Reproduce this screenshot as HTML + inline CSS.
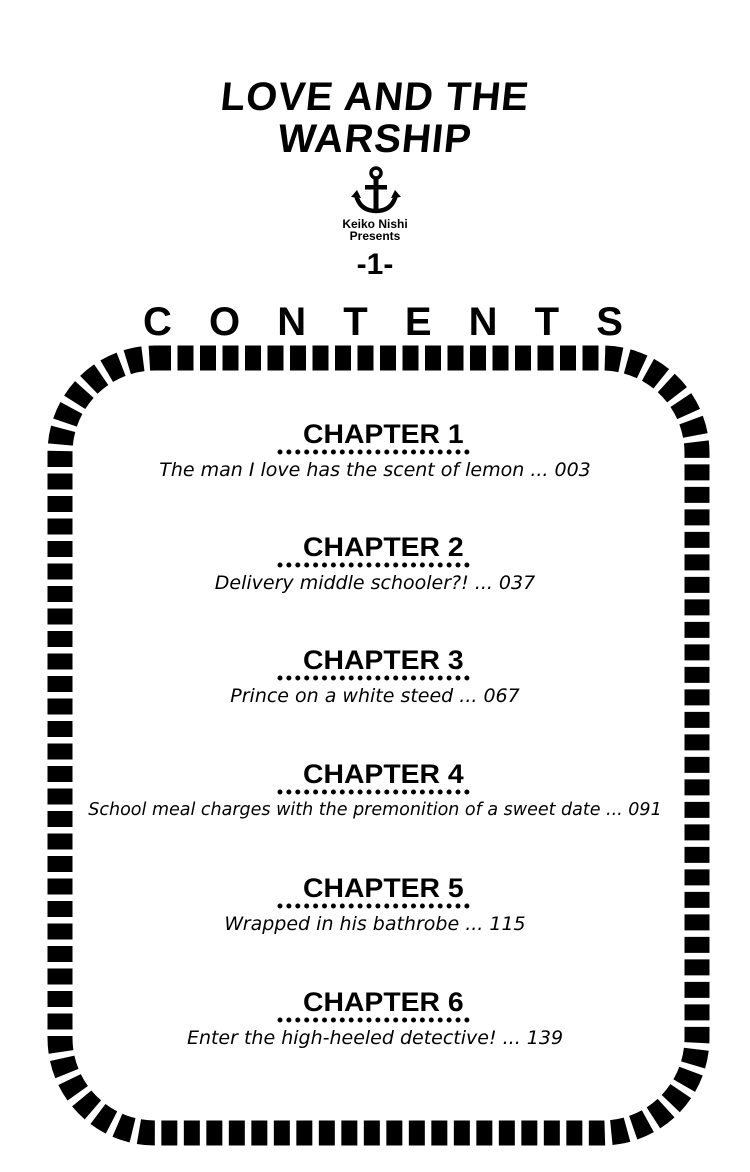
<!DOCTYPE html>
<html><head><meta charset="utf-8"><style>
body{margin:0;width:750px;height:1172px;background:#fff;position:relative;overflow:hidden;font-family:"Liberation Sans",sans-serif;color:#000}
.a{position:absolute;white-space:nowrap}
.t{left:0;width:750px;text-align:center;font-weight:900;font-size:40px;letter-spacing:1px;transform:skewX(-6deg)}
.ch{left:303px;font-weight:900;font-size:27px;line-height:28px;transform:scaleX(1.05);transform-origin:left}
.s{left:0;width:750px;text-align:center;font-style:italic;font-size:19px;line-height:22px;font-family:"DejaVu Sans","Liberation Sans",sans-serif;font-weight:300}
</style></head><body>
<div class="a t" style="top:76px;line-height:42px">LOVE AND THE</div>
<div class="a t" style="top:118px;line-height:42px">WARSHIP</div>
<svg class="a" style="left:350px;top:165px" width="52" height="50" viewBox="0 0 52 50">
<circle cx="26" cy="8" r="5" fill="none" stroke="#000" stroke-width="3.5"/>
<rect x="23.5" y="12" width="5" height="32" fill="#000"/>
<rect x="15" y="20" width="22" height="4.5" fill="#000"/>
<path d="M6 30 Q10 46 26 46 Q42 46 46 30" fill="none" stroke="#000" stroke-width="4.5"/>
<path d="M1 32 L7 25 L11 33 Z M51 32 L45 25 L41 33Z" fill="#000"/>
</svg>
<div class="a" style="left:0;width:750px;text-align:center;top:218px;font-weight:bold;font-size:12px;line-height:12px">Keiko Nishi<br>Presents</div>
<div class="a" style="left:0;width:750px;text-align:center;top:250px;font-weight:900;font-size:30px;line-height:30px">-1-</div>
<div class="a" style="left:143px;top:302px;width:480px;display:flex;justify-content:space-between;font-weight:900;font-size:40px;line-height:40px">
<span>C</span><span>O</span><span>N</span><span>T</span><span>E</span><span>N</span><span>T</span><span>S</span></div>
<svg class="a" style="left:0;top:0" width="750" height="1172">
<rect x="60" y="358" width="637" height="775" rx="95" ry="95" fill="none" stroke="#000" stroke-width="25" stroke-dasharray="16 6.5" stroke-linejoin="round"/>
<g stroke="#000" stroke-width="5" stroke-linecap="round" stroke-dasharray="0 8.9">
<line x1="280" y1="452" x2="474" y2="452"/>
<line x1="280" y1="565" x2="474" y2="565"/>
<line x1="280" y1="678" x2="474" y2="678"/>
<line x1="280" y1="792" x2="474" y2="792"/>
<line x1="280" y1="906" x2="474" y2="906"/>
<line x1="280" y1="1020" x2="474" y2="1020"/>
</g>
</svg>

<div class="a ch" style="top:420px">CHAPTER 1</div>
<div class="a s" style="top:459px">The man I love has the scent of lemon ... 003</div>

<div class="a ch" style="top:533px">CHAPTER 2</div>
<div class="a s" style="top:572px">Delivery middle schooler?! ... 037</div>

<div class="a ch" style="top:646px">CHAPTER 3</div>
<div class="a s" style="top:685px">Prince on a white steed ... 067</div>

<div class="a ch" style="top:760px">CHAPTER 4</div>
<div class="a s" style="top:799px;font-size:17.5px">School meal charges with the premonition of a sweet date ... 091</div>

<div class="a ch" style="top:874px">CHAPTER 5</div>
<div class="a s" style="top:913px">Wrapped in his bathrobe ... 115</div>

<div class="a ch" style="top:988px">CHAPTER 6</div>
<div class="a s" style="top:1027px">Enter the high-heeled detective! ... 139</div>
</body></html>
